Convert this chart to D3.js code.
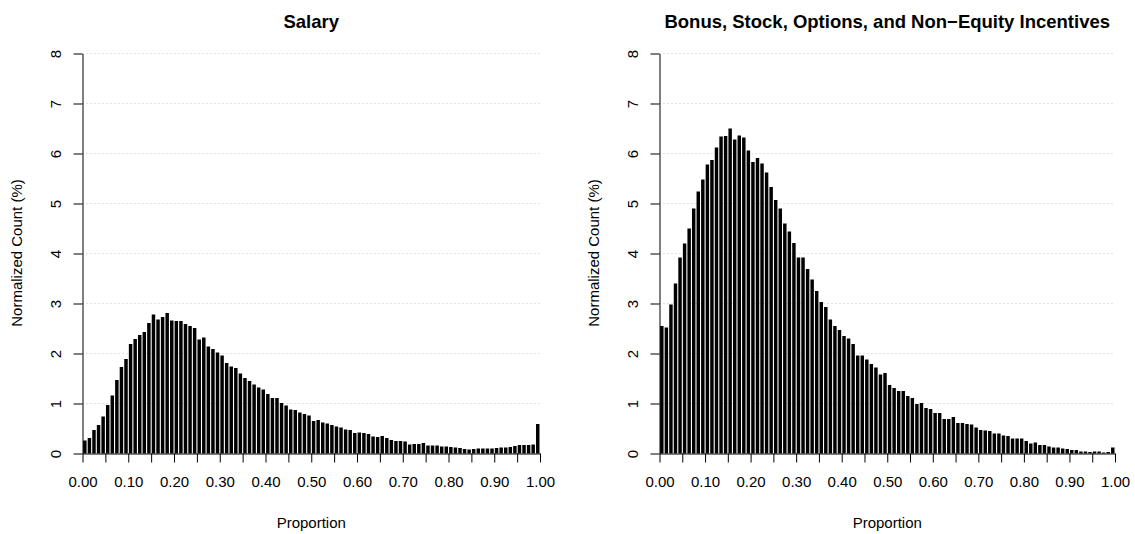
<!DOCTYPE html>
<html>
<head>
<meta charset="utf-8">
<script src="https://cdn.jsdelivr.net/npm/d3@7"></script>
<style>
  html, body { margin: 0; padding: 0; background: #fff; }
  svg { display: block; font-family: "Liberation Sans", Arial, Helvetica, sans-serif; }
</style>
</head>
<body>
<svg id="chart" width="1135" height="534"></svg>
<script>
// ---- Data (normalized counts in %, bins of width 0.01 from 0.00 to 1.00) ----
const salary = [
  0.26, 0.31, 0.47, 0.57, 0.74, 0.97, 1.16, 1.47, 1.73, 1.89,
  2.19, 2.29, 2.37, 2.43, 2.61, 2.78, 2.68, 2.73, 2.81, 2.66,
  2.65, 2.65, 2.59, 2.55, 2.51, 2.28, 2.32, 2.14, 2.09, 2.02,
  1.96, 1.81, 1.74, 1.71, 1.60, 1.51, 1.45, 1.38, 1.32, 1.28,
  1.19, 1.11, 1.11, 1.01, 0.96, 0.88, 0.87, 0.82, 0.79, 0.76,
  0.65, 0.67, 0.62, 0.60, 0.57, 0.54, 0.52, 0.48, 0.47, 0.41,
  0.42, 0.41, 0.39, 0.34, 0.33, 0.35, 0.31, 0.27, 0.25, 0.25,
  0.24, 0.18, 0.19, 0.19, 0.21, 0.16, 0.16, 0.16, 0.14, 0.14,
  0.13, 0.12, 0.11, 0.09, 0.08, 0.09, 0.10, 0.10, 0.10, 0.10,
  0.11, 0.12, 0.12, 0.13, 0.15, 0.17, 0.17, 0.17, 0.18, 0.59
];
const bonus = [
  2.55, 2.52, 2.98, 3.40, 3.92, 4.20, 4.50, 4.90, 5.24, 5.48,
  5.78, 5.87, 6.12, 6.34, 6.35, 6.50, 6.28, 6.36, 6.32, 6.06,
  5.83, 5.91, 5.80, 5.62, 5.33, 5.07, 4.90, 4.60, 4.44, 4.21,
  3.92, 3.92, 3.69, 3.48, 3.25, 3.03, 2.93, 2.68, 2.55, 2.47,
  2.35, 2.30, 2.19, 1.96, 1.96, 1.88, 1.79, 1.72, 1.58, 1.61,
  1.37, 1.31, 1.25, 1.25, 1.15, 1.11, 0.99, 1.01, 0.91, 0.89,
  0.81, 0.81, 0.69, 0.69, 0.73, 0.61, 0.61, 0.59, 0.58, 0.52,
  0.47, 0.46, 0.45, 0.40, 0.40, 0.36, 0.35, 0.30, 0.30, 0.30,
  0.25, 0.20, 0.22, 0.17, 0.17, 0.14, 0.12, 0.12, 0.10, 0.09,
  0.07, 0.07, 0.04, 0.04, 0.03, 0.04, 0.04, 0.02, 0.03, 0.12
];
const binWidth = 0.01;
const xTickValues = [0, 0.05, 0.1, 0.15, 0.2, 0.25, 0.3, 0.35, 0.4, 0.45, 0.5,
                     0.55, 0.6, 0.65, 0.7, 0.75, 0.8, 0.85, 0.9, 0.95, 1.0];
const xTickLabels = ["0.00", "", "0.10", "", "0.20", "", "0.30", "", "0.40", "", "0.50",
                     "", "0.60", "", "0.70", "", "0.80", "", "0.90", "", "1.00"];
const yTickValues = [0, 1, 2, 3, 4, 5, 6, 7, 8];
const gridValues = [1, 2, 3, 4, 5, 6, 7, 8];
const titles = ["Salary", "Bonus, Stock, Options, and Non\u2212Equity Incentives"];
const xTitle = "Proportion";
const yTitle = "Normalized Count (%)";

// ---- Layout ----
const svg = d3.select("#chart");
svg.append("rect").attr("width", 1135).attr("height", 534).attr("fill", "#fff");

const panels = [
  { data: salary, x0: 82.5, x1: 540, title: titles[0] },
  { data: bonus,  x0: 659.5, x1: 1115, title: titles[1] }
];
const y = d3.scaleLinear().domain([0, 8]).range([453.5, 53.5]);

panels.forEach(p => {
  const x = d3.scaleLinear().domain([0, 1]).range([p.x0, p.x1]);
  const g = svg.append("g");

  // grid
  g.selectAll("line.grid").data(gridValues).enter().append("line")
    .attr("class", "grid")
    .attr("x1", x(0)).attr("x2", x(1))
    .attr("y1", d => y(d)).attr("y2", d => y(d))
    .attr("stroke", "#c8c8c8").attr("stroke-width", 1)
    .attr("stroke-dasharray", "1,3");

  // bars
  const step = x(binWidth) - x(0);
  g.selectAll("rect.bar").data(p.data).enter().append("rect")
    .attr("class", "bar")
    .attr("x", (d, i) => x(i * binWidth) + 0.6)
    .attr("width", step - 1.1)
    .attr("y", d => y(d))
    .attr("height", d => y(0) - y(d))
    .attr("fill", "#000");

  // x axis
  const xAxis = d3.axisBottom(x)
    .tickValues(xTickValues)
    .tickFormat((d, i) => xTickLabels[i])
    .tickSize(9).tickSizeOuter(0).tickPadding(14);
  const gx = g.append("g").attr("transform", `translate(0,${y(0)})`).call(xAxis);
  gx.selectAll("text").attr("font-size", 15).attr("fill", "#000")
    .attr("font-family", "'Liberation Sans', Arial, sans-serif");
  gx.selectAll("line, path").attr("stroke", "#000");

  // y axis
  const yAxis = d3.axisLeft(y).tickValues(yTickValues).tickSize(9).tickSizeOuter(0);
  const gy = g.append("g").attr("transform", `translate(${p.x0},0)`).call(yAxis);
  gy.selectAll("text")
    .attr("transform", "rotate(-90)")
    .attr("x", 0).attr("y", -22).attr("dy", 0)
    .attr("text-anchor", "middle")
    .attr("font-size", 15).attr("fill", "#000")
    .attr("font-family", "'Liberation Sans', Arial, sans-serif");
  gy.selectAll("line, path").attr("stroke", "#000");

  const mid = (p.x0 + p.x1) / 2;
  // title
  g.append("text").attr("x", mid).attr("y", 28)
    .attr("text-anchor", "middle").attr("font-weight", "bold")
    .attr("font-size", 18.5).text(p.title);
  // x title
  g.append("text").attr("x", mid).attr("y", 528)
    .attr("text-anchor", "middle").attr("font-size", 15).text(xTitle);
  // y title
  g.append("text")
    .attr("transform", `translate(${p.x0 - 61},253) rotate(-90)`)
    .attr("text-anchor", "middle").attr("font-size", 15).text(yTitle);
});
</script>
</body>
</html>
